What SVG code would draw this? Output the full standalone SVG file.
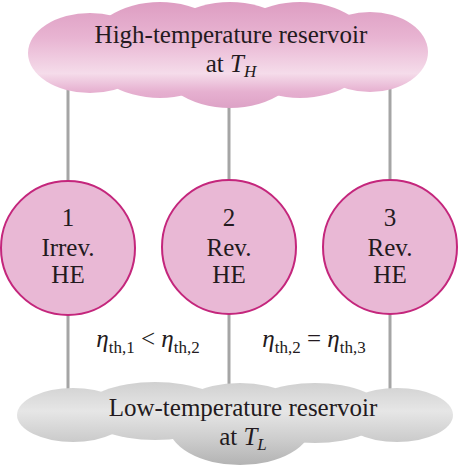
<svg xmlns="http://www.w3.org/2000/svg" width="459" height="468" viewBox="0 0 459 468">
  <style>
    .t { font-family: "Liberation Serif", "Times New Roman", serif; font-size: 25px; fill: #231a20; text-anchor: middle; }
    .it { font-style: italic; }
    .sub { font-size: 17px; }
    .he { fill: #e9b8d5; stroke: #c4267c; stroke-width: 2; }
    .conn { stroke: #a5a5a5; stroke-width: 3; fill: none; }
  </style>
  <defs>
    <linearGradient id="hot" gradientUnits="userSpaceOnUse" x1="0" y1="0" x2="0" y2="108">
      <stop offset="0" stop-color="#dd9cc1"/>
      <stop offset="0.35" stop-color="#e8b4d2"/>
      <stop offset="0.68" stop-color="#f5dcea"/>
      <stop offset="0.85" stop-color="#e6b0d0"/>
      <stop offset="1" stop-color="#dda2c6"/>
    </linearGradient>
    <linearGradient id="cold" gradientUnits="userSpaceOnUse" x1="0" y1="382" x2="0" y2="465">
      <stop offset="0" stop-color="#d0d0d0"/>
      <stop offset="0.35" stop-color="#e6e6e6"/>
      <stop offset="0.7" stop-color="#cccccc"/>
      <stop offset="1" stop-color="#b3b3b3"/>
    </linearGradient>
  </defs>

  <g id="connectors">
    <line class="conn" x1="68" y1="60" x2="68" y2="410"/>
    <line class="conn" x1="229" y1="60" x2="229" y2="410"/>
    <line class="conn" x1="390" y1="60" x2="390" y2="410"/>
  </g>

  <g id="hot-reservoir">
    <g fill="url(#hot)">
      <ellipse cx="90" cy="53" rx="62" ry="40"/>
      <ellipse cx="160" cy="50" rx="72" ry="48"/>
      <ellipse cx="230" cy="55" rx="75" ry="53"/>
      <ellipse cx="300" cy="50" rx="72" ry="48"/>
      <ellipse cx="370" cy="52" rx="58" ry="40"/>
    </g>
    <text class="t" x="231" y="43">High-temperature reservoir</text>
    <text class="t" x="231" y="72">at <tspan class="it">T</tspan><tspan class="it sub" dy="5">H</tspan></text>
  </g>

  <g id="he1">
    <circle class="he" cx="68" cy="248" r="67"/>
    <text class="t" x="68" y="226">1</text>
    <text class="t" x="68" y="256">Irrev.</text>
    <text class="t" x="68" y="283">HE</text>
  </g>
  <g id="he2">
    <circle class="he" cx="229" cy="247" r="67"/>
    <text class="t" x="229" y="226">2</text>
    <text class="t" x="229" y="256">Rev.</text>
    <text class="t" x="229" y="283">HE</text>
  </g>
  <g id="he3">
    <circle class="he" cx="390" cy="247" r="67"/>
    <text class="t" x="390" y="226">3</text>
    <text class="t" x="390" y="256">Rev.</text>
    <text class="t" x="390" y="283">HE</text>
  </g>

  <g id="cold-reservoir">
    <g fill="url(#cold)">
      <ellipse cx="73" cy="415" rx="56" ry="27"/>
      <ellipse cx="155" cy="411" rx="72" ry="29"/>
      <ellipse cx="240" cy="424" rx="72" ry="41"/>
      <ellipse cx="315" cy="413" rx="70" ry="30"/>
      <ellipse cx="397" cy="415" rx="56" ry="27"/>
    </g>
    <text class="t" x="243" y="416">Low-temperature reservoir</text>
    <text class="t" x="243" y="445">at <tspan class="it">T</tspan><tspan class="it sub" dy="5">L</tspan></text>
  </g>

  <g id="labels">
    <text class="t" x="148" y="347"><tspan class="it">η</tspan><tspan class="sub" dy="6">th,1</tspan><tspan dy="-6"> &lt; </tspan><tspan class="it">η</tspan><tspan class="sub" dy="6">th,2</tspan></text>
    <text class="t" x="314" y="347"><tspan class="it">η</tspan><tspan class="sub" dy="6">th,2</tspan><tspan dy="-6"> = </tspan><tspan class="it">η</tspan><tspan class="sub" dy="6">th,3</tspan></text>
  </g>
</svg>
